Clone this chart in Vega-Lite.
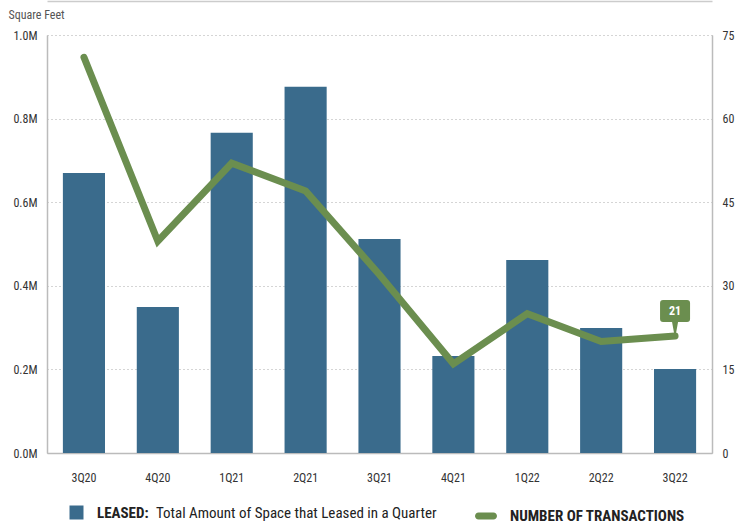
{
  "$schema": "https://vega.github.io/schema/vega-lite/v6.json",
  "width": 665,
  "height": 418,
  "autosize": {"type": "none"},
  "padding": {"left": 47, "top": 35, "right": 24, "bottom": 72},
  "background": "white",
  "config": {
    "view": {"stroke": null},
    "font": "Liberation Sans Narrow, Roboto Condensed, DejaVu Sans Condensed, sans-serif",
    "axis": {"labelFont": "Liberation Sans Narrow, Roboto Condensed, DejaVu Sans Condensed, sans-serif", "labelColor": "#333", "labelFontSize": 12},
    "legend": {"labelFont": "Liberation Sans Narrow, Roboto Condensed, DejaVu Sans Condensed, sans-serif", "labelLimit": 600}
  },
  "data": {
    "values": [
      {"quarter": "3Q20", "sqft": 670000, "transactions": 71},
      {"quarter": "4Q20", "sqft": 349000, "transactions": 38},
      {"quarter": "1Q21", "sqft": 766000, "transactions": 52},
      {"quarter": "2Q21", "sqft": 876000, "transactions": 47},
      {"quarter": "3Q21", "sqft": 512000, "transactions": 32},
      {"quarter": "4Q21", "sqft": 232000, "transactions": 16},
      {"quarter": "1Q22", "sqft": 462000, "transactions": 25},
      {"quarter": "2Q22", "sqft": 299000, "transactions": 20},
      {"quarter": "3Q22", "sqft": 201000, "transactions": 21}
    ]
  },
  "encoding": {
    "x": {
      "field": "quarter", "type": "ordinal", "sort": null,
      "scale": {"paddingInner": 0.43, "paddingOuter": 0.215},
      "axis": {"title": null, "labelAngle": 0, "ticks": false, "labelPadding": 19, "domainColor": "#bbb", "domainWidth": 1.5, "grid": false}
    }
  },
  "layer": [
    {
      "mark": {"type": "bar", "fill": "#3a6b8c"},
      "encoding": {
        "y": {
          "field": "sqft", "type": "quantitative",
          "scale": {"domain": [0, 1000000], "nice": false},
          "axis": {
            "values": [0, 200000, 400000, 600000, 800000, 1000000],
            "labelExpr": "format(datum.value / 1000000, '.1f') + 'M'",
            "title": "Square Feet", "titleAngle": 0, "titleAlign": "left", "titleBaseline": "middle",
            "titleX": -39, "titleY": -21, "titleFontSize": 12, "titleFontWeight": "normal", "titleColor": "#555",
            "titleFont": "Liberation Sans Narrow, Roboto Condensed, DejaVu Sans Condensed, sans-serif",
            "ticks": false, "labelPadding": 10, "domainColor": "#bbb", "domainWidth": 1.5,
            "grid": true, "gridColor": "#aaa", "gridDash": [1, 3], "gridWidth": 1
          }
        },
        "fill": {
          "datum": "LEASED:", "type": "nominal",
          "scale": {"range": ["#3a6b8c"]},
          "legend": {
            "orient": "none", "legendX": 22, "legendY": 470, "title": null, "padding": 0,
            "symbolType": "square", "symbolSize": 196, "symbolStrokeWidth": 0,
            "labelFontSize": 15, "labelFontWeight": "bold", "labelColor": "#222", "labelOffset": 13
          }
        },
        "opacity": {
          "datum": "Total Amount of Space that Leased in a Quarter", "type": "nominal",
          "scale": {"range": [1]},
          "legend": {
            "orient": "none", "legendX": 94, "legendY": 470, "title": null, "padding": 0,
            "symbolSize": 0, "symbolOpacity": 0, "symbolStrokeWidth": 0,
            "labelFontSize": 15, "labelColor": "#222", "labelOffset": 0
          }
        }
      }
    },
    {
      "encoding": {
        "x": {
          "field": "quarter", "type": "ordinal", "sort": null,
          "axis": {"orient": "top", "title": null, "labels": false, "ticks": false, "offset": 34, "domainColor": "#ccc", "domainWidth": 1.5, "grid": false}
        },
        "y": {
          "field": "transactions", "type": "quantitative",
          "scale": {"domain": [0, 75], "nice": false},
          "axis": {
            "orient": "right", "title": null, "values": [0, 15, 30, 45, 60, 75],
            "ticks": false, "labelPadding": 10, "domainColor": "#bbb", "domainWidth": 1.5, "grid": false
          }
        }
      },
      "layer": [
        {
          "mark": {"type": "line", "strokeWidth": 7, "strokeCap": "round"},
          "encoding": {
            "stroke": {
              "datum": "NUMBER OF TRANSACTIONS", "type": "nominal",
              "scale": {"range": ["#6b8e4f"]},
              "legend": {
                "orient": "none", "legendX": 428, "legendY": 470, "title": null, "padding": 0,
                "symbolType": "M -0.68 -0.32 L 0.68 -0.32 A 0.32 0.32 0 0 1 0.68 0.32 L -0.68 0.32 A 0.32 0.32 0 0 1 -0.68 -0.32 Z",
                "symbolSize": 484, "symbolStrokeWidth": 0, "symbolFillColor": "#6b8e4f",
                "labelFontSize": 15, "labelFontWeight": "bold", "labelColor": "#222", "labelOffset": 13
              }
            }
          }
        },
        {
          "transform": [{"filter": "datum.quarter === '3Q22'"}],
          "mark": {
            "type": "point", "filled": true, "opacity": 1, "size": 4, "color": "#6b8e4f", "strokeWidth": 0,
            "shape": "M -12 -36 L 12 -36 Q 15 -36 15 -33 L 15 -17 Q 15 -14 12 -14 L 3 -14 L 1 -3 L -1 -3 L -3 -14 L -12 -14 Q -15 -14 -15 -17 L -15 -33 Q -15 -36 -12 -36 Z"
          }
        },
        {
          "transform": [{"filter": "datum.quarter === '3Q22'"}],
          "mark": {"type": "text", "color": "white", "fontWeight": "bold", "fontSize": 12, "dy": -25, "baseline": "middle"},
          "encoding": {"text": {"field": "transactions", "type": "quantitative"}}
        }
      ]
    }
  ],
  "resolve": {"scale": {"y": "independent"}, "axis": {"x": "independent"}}
}
